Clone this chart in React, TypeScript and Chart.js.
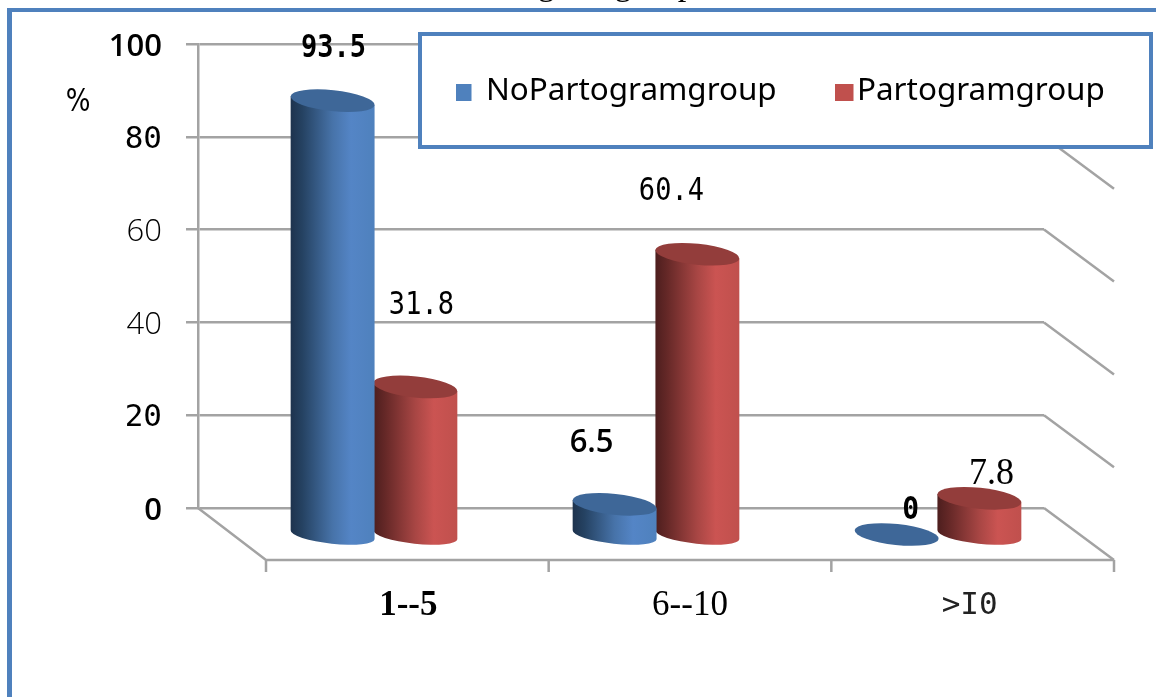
import React, { useEffect, useRef } from "react";
import { Chart, registerables } from "chart.js";

Chart.register(...registerables);

// Values
const categories = ["1--5", "6--10", ">I0"];
const noPartogramValues = [93.5, 6.5, 0];
const partogramValues = [31.8, 60.4, 7.8];
const seriesNames = ["NoPartogramgroup", "Partogramgroup"];
const yTicks = [0, 20, 40, 60, 80, 100];

// Colours
const FRAME = "#4f81bd";
const GRID = "#a3a3a3";
const SERIES_COLORS = ["#4f81bd", "#c0504d"];
const BODY_STOPS = [
  [[0, "#1e334e"], [0.14, "#254262"], [0.5, "#4773a9"], [0.72, "#5485c6"], [1, "#4f81bd"]],
  [[0, "#4d1e1e"], [0.14, "#652827"], [0.5, "#a84644"], [0.72, "#cb5452"], [1, "#c0504d"]],
];
const CAP_COLORS = ["#3e6798", "#933d3b"];

// 3-D projection of the plot box
const FLOOR_LEFT_DX = 68;
const FLOOR_RIGHT_DX = 70;
const FLOOR_DY = 52;
const BAR_DX = 35;
const BAR_DY = 28;
const CAP_LIFT = 1.5;
const CAP_MINOR = 10.5;
const BASE_MINOR = 9;
const CAP_TILT = 0.105;

// Font lookups
const MONO = '"DejaVu Sans Mono"';
const SANS = '"Open Sans"';
const SERIF = '"Liberation Serif"';

const yTickFonts: Record<number, any> = {
  0: { family: SANS, size: 31, weight: "600" },
  20: { family: MONO, size: 31, weight: "normal" },
  40: { family: SANS, size: 31, weight: "300" },
  60: { family: SANS, size: 31, weight: "300" },
  80: { family: MONO, size: 31, weight: "normal" },
  100: { family: SANS, size: 31, weight: "600" },
};

const categoryLabelFonts = [
  `bold 35px ${SERIF}`,
  `35px ${SERIF}`,
  `31px ${MONO}`,
];
const categoryLabelColors = ["#000", "#000", "#222"];
const categoryLabelShift = [1, 0, -3];

// Value label placement relative to each cylinder's top centre, per series and category
const valueLabelOffsets = [
  [[1, -54], [-23, -63], [14, -25]],
  [[6, -83], [-26, -64], [12, -26]],
];
const valueLabelFonts = [
  [`bold 27px ${MONO}`, `600 31px ${SANS}`, `bold 28px ${MONO}`],
  [`27px ${MONO}`, `27px ${MONO}`, `36px ${SERIF}`],
];
const valueLabelStretch = [
  [1.2, 1.05, 1.15],
  [1.2, 1.2, 1.05],
];

function tallText(ctx: CanvasRenderingContext2D, text: string, x: number, y: number, stretch: number) {
  ctx.save();
  ctx.translate(x, y);
  ctx.scale(1, stretch);
  ctx.fillText(text, 0, 0);
  ctx.restore();
}

function cylinder(ctx: CanvasRenderingContext2D, idx: number, cx: number, topY: number, baseY: number, half: number) {
  const dx = half * Math.cos(CAP_TILT);
  const dy = half * Math.sin(CAP_TILT);
  const capY = topY - CAP_LIFT;

  if (baseY - topY > 0.5) {
    const g = ctx.createLinearGradient(cx - dx, 0, cx + dx, 0);
    BODY_STOPS[idx].forEach(([o, c]) => g.addColorStop(o as number, c as string));
    ctx.beginPath();
    ctx.moveTo(cx - dx, capY - dy);
    ctx.lineTo(cx - dx, baseY - dy);
    ctx.ellipse(cx, baseY, half, BASE_MINOR, CAP_TILT, Math.PI, 0, true);
    ctx.lineTo(cx + dx, capY + dy);
    ctx.closePath();
    ctx.fillStyle = g;
    ctx.fill();
  }
  ctx.beginPath();
  ctx.ellipse(cx, capY, half, CAP_MINOR, CAP_TILT, 0, Math.PI * 2);
  ctx.fillStyle = CAP_COLORS[idx];
  ctx.fill();
}

const scene3d = {
  id: "scene3d",
  beforeDatasetsDraw(chart: any) {
    const { ctx, chartArea: a, scales } = chart;
    const y = scales.y;
    const frontLeft = a.left + FLOOR_LEFT_DX;
    const frontRight = a.right + FLOOR_RIGHT_DX;
    const frontY = y.getPixelForValue(0) + FLOOR_DY;
    ctx.save();
    ctx.strokeStyle = GRID;
    ctx.lineWidth = 2.5;
    // Side wall edges running forward from each gridline
    yTicks.forEach((v) => {
      const py = y.getPixelForValue(v);
      ctx.beginPath();
      ctx.moveTo(a.right, py);
      ctx.lineTo(frontRight, py + FLOOR_DY);
      ctx.stroke();
    });
    // Floor outline and category ticks
    ctx.beginPath();
    ctx.moveTo(a.left, y.getPixelForValue(0));
    ctx.lineTo(frontLeft, frontY);
    ctx.lineTo(frontRight, frontY);
    const step = (frontRight - frontLeft) / categories.length;
    for (let i = 0; i <= categories.length; i++) {
      ctx.moveTo(frontLeft + i * step, frontY);
      ctx.lineTo(frontLeft + i * step, frontY + 12);
    }
    ctx.stroke();
    // Category labels sit on the front edge of the floor
    ctx.textAlign = "center";
    ctx.textBaseline = "middle";
    categories.forEach((c, i) => {
      ctx.font = categoryLabelFonts[i];
      ctx.fillStyle = categoryLabelColors[i];
      ctx.fillText(c, frontLeft + (i + 0.5) * step + categoryLabelShift[i], frontY + 46);
    });
    ctx.restore();
  },
  beforeDatasetDraw(chart: any, args: any) {
    const { ctx } = chart;
    ctx.save();
    args.meta.data.forEach((bar: any) => {
      const p = bar.getProps(["x", "y", "base", "width"], true);
      cylinder(ctx, args.index, p.x + BAR_DX, p.y + BAR_DY, p.base + BAR_DY, p.width / 2 + 0.8);
    });
    ctx.restore();
    return false;
  },
  afterDatasetsDraw(chart: any) {
    const { ctx } = chart;
    ctx.save();
    ctx.fillStyle = "#000";
    ctx.textAlign = "center";
    ctx.textBaseline = "middle";
    chart.data.datasets.forEach((ds: any, s: number) => {
      chart.getDatasetMeta(s).data.forEach((bar: any, i: number) => {
        const p = bar.getProps(["x", "y"], true);
        const [ox, oy] = valueLabelOffsets[s][i];
        ctx.font = valueLabelFonts[s][i];
        tallText(ctx, String(ds.data[i]), p.x + BAR_DX + ox, p.y + BAR_DY + oy, valueLabelStretch[s][i]);
      });
    });

    // Axis unit
    ctx.font = `26px "DejaVu Sans"`;
    tallText(ctx, "%", 78, 103, 1.25);

    // Outer frame: left and top rules only
    ctx.fillStyle = FRAME;
    ctx.fillRect(7, 8, 1149, 4);
    ctx.fillRect(7, 8, 5, 689);

    // Clipped heading line above the frame
    ctx.fillStyle = "#000";
    ctx.textAlign = "left";
    ctx.textBaseline = "alphabetic";
    ctx.font = `34.5px ${SERIF}`;
    ctx.fillText("during the group", 465, -5.5);

    // Legend box
    ctx.fillStyle = "#fff";
    ctx.fillRect(420, 34, 731, 113);
    ctx.strokeStyle = FRAME;
    ctx.lineWidth = 4;
    ctx.strokeRect(420, 34, 731, 113);
    const entries = [
      { swatch: 456, w: 15.5, text: 486 },
      { swatch: 835, w: 18.5, text: 857 },
    ];
    ctx.font = `31.4px "Noto Sans"`;
    chart.data.datasets.forEach((ds: any, s: number) => {
      ctx.fillStyle = SERIES_COLORS[s];
      ctx.fillRect(entries[s].swatch, 84, entries[s].w, 17);
      ctx.fillStyle = "#000";
      ctx.fillText(ds.label, entries[s].text, 100);
    });
    ctx.restore();
  },
};

export default function App() {
  const ref = useRef<HTMLCanvasElement>(null);

  useEffect(() => {
    const chart = new Chart(ref.current as HTMLCanvasElement, {
      type: "bar",
      data: {
        labels: categories,
        datasets: [
          { label: seriesNames[0], data: noPartogramValues, backgroundColor: SERIES_COLORS[0] },
          { label: seriesNames[1], data: partogramValues, backgroundColor: SERIES_COLORS[1] },
        ],
      },
      options: {
        responsive: false,
        animation: false,
        layout: { padding: { left: 0, top: 44, right: 112, bottom: 189 } },
        plugins: { legend: { display: false }, tooltip: { enabled: false } },
        datasets: { bar: { categoryPercentage: 0.587, barPercentage: 1 } },
        scales: {
          x: { display: false },
          y: {
            min: 0,
            max: 100,
            afterFit: (s: any) => {
              s.width = 198;
            },
            afterBuildTicks: (s: any) => {
              s.ticks = yTicks.map((value) => ({ value }));
            },
            grid: { color: GRID, lineWidth: 2.5, tickLength: 12, tickColor: GRID },
            border: { display: true, color: GRID, width: 2.5 },
            ticks: {
              color: "#000",
              padding: 24,
              labelOffset: 3,
              font: (c: any) => yTickFonts[c.tick?.value] ?? yTickFonts[0],
            },
          },
        },
      },
      plugins: [scene3d],
    } as any);
    return () => chart.destroy();
  }, []);

  return (
    <div style={{ position: "fixed", left: 0, top: 0, width: 1156, height: 697, background: "#fff" }}>
      <canvas ref={ref} width={1156} height={697} style={{ display: "block" }} />
    </div>
  );
}
